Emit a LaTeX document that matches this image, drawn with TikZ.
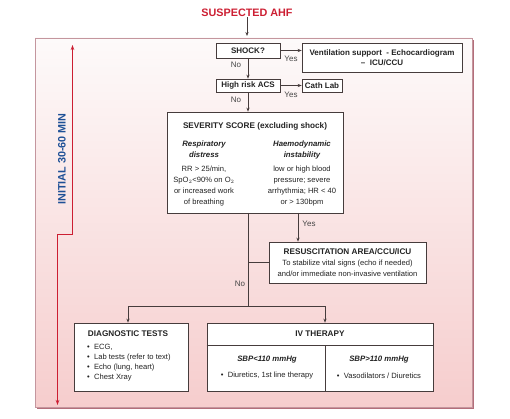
\documentclass[tikz,border=0pt]{standalone}
\usepackage{fontspec}
\setmainfont{Liberation Sans}
\usetikzlibrary{arrows.meta}
\definecolor{frame}{RGB}{196,150,158}
\definecolor{shadowc}{RGB}{180,110,122}
\definecolor{bgtop}{RGB}{253,250,250}
\definecolor{bgbot}{RGB}{246,205,205}
\definecolor{ahfred}{RGB}{204,30,50}
\definecolor{txt}{RGB}{35,35,35}
\definecolor{lbl}{RGB}{70,70,70}
\definecolor{edge}{RGB}{70,60,60}
\definecolor{blue1}{RGB}{30,80,150}
\tikzset{
  flowbox/.style={draw=edge, line width=0.7pt, fill=white, inner sep=0pt, text=txt,
     font=\fontsize{8}{10}\selectfont\bfseries, align=center},
  txtnode/.style={inner sep=0pt, text=txt, align=center, font=\fontsize{7.6}{10.7}\selectfont},
  headnode/.style={inner sep=0pt, text=txt, align=center, font=\fontsize{8.2}{10}\selectfont\bfseries},
  subhead/.style={inner sep=0pt, text=txt, align=center, font=\fontsize{7.8}{11}\selectfont\bfseries\itshape},
  lab/.style={inner sep=0pt, text=lbl, font=\fontsize{8}{9}\selectfont},
  conn/.style={draw=edge, line width=0.7pt},
  arr/.style={conn, -{Stealth[length=4pt,width=3.2pt]}},
}
\begin{document}
\begin{tikzpicture}[x=1pt,y=-1pt]
\useasboundingbox (0,0) rectangle (510,419);
% background panel
\fill[shadowc] (37,40) rectangle (474,409);
\shade[top color=bgtop, bottom color=bgbot] (35,38) rectangle (472,407);
\draw[frame, line width=0.6pt] (35,38) rectangle (472,407);

% title
\node[inner sep=0pt, text=ahfred, font=\fontsize{10.8}{12}\selectfont\bfseries] (title) at (247,13) {SUSPECTED AHF};
\coordinate (paneltop) at (247,36);
\draw[arr] (title.south) -- (paneltop);

% time arrow
\draw[ahfred, line width=0.8pt, {Stealth[length=5pt,width=3.5pt]}-{Stealth[length=5pt,width=3.5pt]}]
  (72.5,45) -- (72.5,234) -- (57.5,234) -- (57.5,405);
\node[inner sep=0pt, text=blue1, rotate=90, font=\fontsize{10.8}{12}\selectfont\bfseries] (initial) at (62,159) {INITIAL 30-60 MIN};

% top boxes
\node[flowbox, minimum width=64pt, minimum height=15pt] (shock) at (248,50.5) {SHOCK?};
\node[flowbox, minimum width=160pt, minimum height=29pt, font=\fontsize{8}{10.5}\selectfont\bfseries] (vent) at (382,57.5) {Ventilation support\ \ - Echocardiogram\\ --\ \ ICU/CCU};
\node[flowbox, minimum width=64pt, minimum height=13pt] (risk) at (248,85.5) {High risk ACS};
\node[flowbox, minimum width=40pt, minimum height=13pt] (cath) at (322,85.5) {Cath Lab};

\draw[arr] (shock.east) -- (shock.east -| vent.west);
\node[lab] (yes1) at (291,58.5) {Yes};
\draw[arr] (shock.south) -- (risk.north);
\node[lab] (no1) at (236,65) {No};
\draw[arr] (risk.east) -- (cath.west);
\node[lab] (yes2) at (291,95) {Yes};

% severity box
\node[flowbox, minimum width=176pt, minimum height=101pt] (sev) at (255,162.5) {};
\draw[arr] (risk.south) -- (sev.north -| risk.south);
\node[lab] (no2) at (236,100) {No};
\node[headnode] (sevt) at (255,126) {SEVERITY SCORE (excluding shock)};
\node[subhead] (resp) at (204,149.5) {Respiratory\\distress};
\node[subhead] (haem) at (302,149.5) {Haemodynamic\\instability};
\node[txtnode] (respt) at (204,186) {RR {>} 25/min,\\SpO$_2${<}90\% on O$_2$\\or increased work\\of breathing};
\node[txtnode] (haemt) at (302,186) {low or high blood\\pressure; severe\\arrhythmia; HR {<} 40\\or {>} 130bpm};

% resuscitation
\node[flowbox, minimum width=157pt, minimum height=41pt] (resus) at (347.5,262.5) {};
\node[headnode] (rest) at (347.5,252) {RESUSCITATION AREA/CCU/ICU};
\node[txtnode] (resb) at (347.5,268.5) {To stabilize vital signs (echo if needed)\\and/or immediate non-invasive ventilation};
\coordinate (sevR) at (298,213);
\draw[arr] (sevR) -- (sevR |- resus.north);
\node[lab] (yes3) at (309,224) {Yes};

% left branch
\coordinate (sevL) at (248,213);
\coordinate (split) at (248,306);
\draw[conn] (sevL) -- (split);
\draw[conn] (resus.west) -- (resus.west -| sevL);
\node[lab] (no3) at (240,284) {No};

% bottom boxes
\node[flowbox, minimum width=114pt, minimum height=68pt] (diag) at (131,357) {};
\node[flowbox, minimum width=226pt, minimum height=68pt] (iv) at (320,357) {};
\coordinate (dtop) at (128,306);
\coordinate (itop) at (325,306);
\draw[conn] (dtop) -- (itop);
\draw[arr] (dtop) -- (dtop |- diag.north);
\draw[arr] (itop) -- (itop |- iv.north);

\node[headnode] (diagt) at (128,334) {DIAGNOSTIC TESTS};
\node[txtnode, anchor=north west, align=left, font=\fontsize{7.6}{10}\selectfont] (diagl) at (87,343.5)
  {\textbullet\ \ ECG,\\\textbullet\ \ Lab tests (refer to text)\\\textbullet\ \ Echo (lung, heart)\\\textbullet\ \ Chest Xray};

\draw[conn] (iv.west |- 0,345) coordinate (ivdl) -- (iv.east |- 0,345);
\draw[conn] (325,345) coordinate (ivdt) -- (ivdt |- iv.south);
\node[headnode] (ivt) at (320,334) {IV THERAPY};
\node[subhead] (sbp1) at (267,360) {SBP{<}110 mmHg};
\node[subhead] (sbp2) at (379,360) {SBP{>}110 mmHg};
\node[txtnode] (d1) at (267,376) {\textbullet\ \ Diuretics, 1st line therapy};
\node[txtnode] (d2) at (379,376) {\textbullet\ \ Vasodilators / Diuretics};
\end{tikzpicture}
\end{document}
